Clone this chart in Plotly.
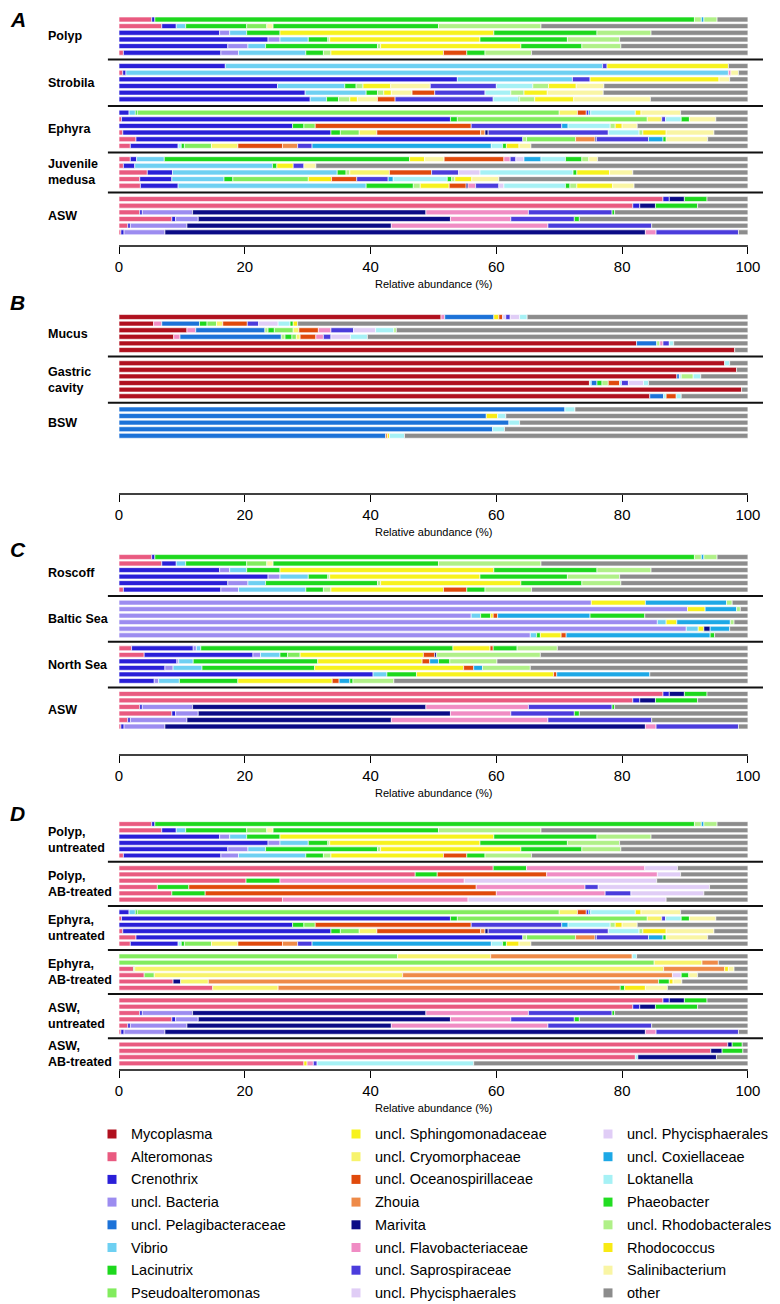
import plotly.graph_objects as go

W, H = 780, 1304
PAGE_MARGIN = 8  # the browser puts the plot 8px in from the page corner
FONT = "Liberation Sans, Arial, Helvetica, sans-serif"

# taxon code -> (legend label, colour)
TAXA = {
    "MYC": ("Mycoplasma", "#B0101E"),
    "ALT": ("Alteromonas", "#E95A80"),
    "CRE": ("Crenothrix", "#2A1FD8"),
    "BAC": ("uncl. Bacteria", "#9C8CF0"),
    "PEL": ("uncl. Pelagibacteraceae", "#1C72D8"),
    "VIB": ("Vibrio", "#6ED0F2"),
    "LAC": ("Lacinutrix", "#1DD81D"),
    "PSE": ("Pseudoalteromonas", "#82EC5E"),
    "SPH": ("uncl. Sphingomonadaceae", "#F7F21E"),
    "CRY": ("uncl. Cryomorphaceae", "#F7F36C"),
    "OCE": ("uncl. Oceanospirillaceae", "#E04A0C"),
    "ZHO": ("Zhouia", "#EE8A48"),
    "MAR": ("Marivita", "#0B0B86"),
    "FLA": ("uncl. Flavobacteriaceae", "#F08CC4"),
    "SAP": ("uncl. Saprospiraceae", "#4B3CDC"),
    "PHY": ("uncl. Phycisphaerales", "#E0CDF6"),
    "COX": ("uncl. Coxiellaceae", "#1DA8E6"),
    "LOK": ("Loktanella", "#A6F1F5"),
    "PHA": ("Phaeobacter", "#22DD22"),
    "RHB": ("uncl. Rhodobacterales", "#B0F088"),
    "RHO": ("Rhodococcus", "#F8EA14"),
    "SAL": ("Salinibacterium", "#F9F5A4"),
    "OTH": ("other", "#8C8C8C"),
}

LEGEND_COLUMNS = [
    ["MYC", "ALT", "CRE", "BAC", "PEL", "VIB", "LAC", "PSE"],
    ["SPH", "CRY", "OCE", "ZHO", "MAR", "FLA", "SAP", "PHY"],
    ["PHY", "COX", "LOK", "PHA", "RHB", "RHO", "SAL", "OTH"],
]

# relative abundance (%) per sample, segments in drawing order
POLYP = [
    [("ALT", 5.2), ("CRE", 0.5), ("LAC", 85.8), ("RHB", 1.1), ("COX", 0.4), ("RHB", 2.1), ("OTH", 4.9)],
    [("ALT", 6.8), ("CRE", 2.3), ("VIB", 1.5), ("LAC", 9.7), ("PSE", 3.2), ("SAL", 1.0), ("LAC", 26.3), ("RHB", 16.3), ("OTH", 32.9)],
    [("CRE", 16.0), ("BAC", 1.6), ("VIB", 2.7), ("LAC", 5.3), ("SPH", 34.0), ("LAC", 16.4), ("RHB", 8.6), ("OTH", 15.4)],
    [("CRE", 23.7), ("BAC", 1.9), ("VIB", 4.5), ("LAC", 3.1), ("RHB", 0.3), ("SPH", 23.9), ("LAC", 13.9), ("RHB", 8.3), ("OTH", 20.4)],
    [("CRE", 17.3), ("BAC", 3.2), ("VIB", 2.8), ("LAC", 17.8), ("RHB", 0.5), ("SPH", 22.3), ("LAC", 9.7), ("RHB", 6.2), ("OTH", 20.2)],
    [("ALT", 0.7), ("CRE", 15.5), ("BAC", 2.8), ("VIB", 10.7), ("LAC", 2.8), ("RHB", 1.2), ("SPH", 17.9), ("OCE", 3.7), ("LAC", 2.9), ("RHB", 7.4), ("OTH", 34.4)],
]
STROBILA = [
    [("CRE", 16.9), ("VIB", 60.0), ("SAP", 0.7), ("SPH", 19.3), ("OTH", 3.1)],
    [("ALT", 0.6), ("CRE", 0.5), ("VIB", 95.8), ("FLA", 0.4), ("SAL", 1.2), ("OTH", 1.5)],
    [("CRE", 53.8), ("VIB", 18.3), ("SAP", 2.8), ("SPH", 20.5), ("SAL", 1.7), ("OTH", 2.9)],
    [("CRE", 25.2), ("VIB", 10.7), ("LAC", 1.8), ("RHB", 1.1), ("SPH", 4.4), ("SAL", 6.3), ("SAP", 10.5), ("LOK", 5.8), ("RHB", 2.5), ("SPH", 4.4), ("SAL", 4.4), ("OTH", 22.9)],
    [("CRE", 29.6), ("VIB", 9.7), ("LAC", 1.8), ("RHB", 1.0), ("SPH", 1.2), ("SAL", 3.3), ("OCE", 3.6), ("SAP", 8.0), ("LOK", 4.1), ("RHB", 2.1), ("SPH", 3.7), ("SAL", 8.9), ("OTH", 23.0)],
    [("CRE", 30.4), ("VIB", 2.6), ("LAC", 1.9), ("RHB", 1.8), ("SPH", 1.2), ("SAL", 3.2), ("OCE", 2.8), ("SAP", 15.6), ("LOK", 4.0), ("LAC", 0.2), ("RHB", 2.4), ("SPH", 6.2), ("SAL", 12.2), ("OTH", 15.5)],
]
EPHYRA = [
    [("CRE", 1.6), ("VIB", 1.0), ("LAC", 0.3), ("PSE", 67.1), ("CRY", 2.9), ("OCE", 1.4), ("SAP", 0.4), ("COX", 0.3), ("LOK", 7.1), ("RHO", 0.9), ("SAL", 6.3), ("OTH", 10.7)],
    [("ALT", 0.4), ("CRE", 52.3), ("LAC", 1.1), ("PSE", 30.2), ("CRY", 2.3), ("SAP", 0.6), ("LOK", 2.5), ("LAC", 1.3), ("SAL", 4.2), ("OTH", 5.1)],
    [("CRE", 27.6), ("LAC", 1.8), ("PSE", 1.8), ("OCE", 24.8), ("SAP", 14.4), ("COX", 1.0), ("LOK", 6.7), ("RHB", 0.8), ("RHO", 1.1), ("SAL", 2.4), ("OTH", 17.6)],
    [("ALT", 0.6), ("CRE", 33.1), ("LAC", 1.5), ("PSE", 3.0), ("CRY", 2.8), ("OCE", 16.5), ("ZHO", 0.7), ("MAR", 0.5), ("SAP", 19.1), ("LOK", 4.9), ("RHB", 0.6), ("RHO", 3.7), ("SAL", 7.6), ("OTH", 5.4)],
    [("ALT", 2.7), ("CRE", 61.5), ("RHB", 0.6), ("PSE", 7.8), ("ZHO", 3.1), ("MAR", 0.2), ("SAP", 8.3), ("COX", 2.3), ("LAC", 0.5), ("SAL", 6.6), ("OTH", 6.4)],
    [("ALT", 1.8), ("CRE", 7.6), ("LOK", 0.5), ("LAC", 0.5), ("PSE", 4.3), ("CRY", 4.2), ("OCE", 7.1), ("ZHO", 2.4), ("SAP", 2.3), ("COX", 28.5), ("LOK", 1.8), ("LAC", 0.6), ("RHO", 2.0), ("SAL", 1.9), ("OTH", 34.5)],
]
JUVENILE = [
    [("ALT", 1.8), ("CRE", 1.0), ("VIB", 4.4), ("LAC", 39.0), ("SPH", 2.4), ("SAL", 3.1), ("OCE", 9.5), ("FLA", 1.0), ("SAP", 0.9), ("PHY", 1.3), ("COX", 2.7), ("LOK", 3.9), ("LAC", 2.6), ("RHB", 1.1), ("SAL", 1.4), ("OTH", 23.9)],
    [("ALT", 0.7), ("CRE", 1.8), ("VIB", 21.9), ("LAC", 0.7), ("SPH", 2.6), ("SAP", 1.7), ("SAL", 1.9), ("OTH", 68.7)],
    [("ALT", 4.5), ("CRE", 4.0), ("VIB", 26.2), ("LAC", 1.4), ("RHB", 0.6), ("CRY", 6.3), ("OCE", 6.7), ("SAP", 4.3), ("PHY", 3.4), ("LOK", 14.8), ("LAC", 0.6), ("SPH", 5.2), ("SAL", 3.7), ("OTH", 18.3)],
    [("ALT", 3.3), ("CRE", 5.1), ("VIB", 8.3), ("LAC", 1.4), ("PSE", 12.0), ("RHO", 3.7), ("OCE", 4.0), ("SAP", 5.0), ("COX", 0.8), ("LOK", 8.6), ("LAC", 0.7), ("RHB", 0.5), ("SPH", 2.7), ("SAL", 4.3), ("OTH", 39.6)],
    [("ALT", 3.4), ("CRE", 6.0), ("VIB", 29.9), ("LAC", 7.5), ("RHB", 1.1), ("SPH", 4.6), ("OCE", 2.7), ("MAR", 0.3), ("FLA", 1.2), ("SAP", 3.7), ("PHY", 0.8), ("LOK", 9.8), ("LAC", 0.7), ("RHB", 1.1), ("SPH", 5.7), ("SAL", 3.4), ("OTH", 18.1)],
]
ASW = [
    [("ALT", 86.5), ("CRE", 1.0), ("MAR", 2.4), ("LAC", 3.6), ("OTH", 6.5)],
    [("ALT", 81.7), ("CRE", 1.1), ("MAR", 2.5), ("LAC", 6.7), ("OTH", 8.0)],
    [("ALT", 3.3), ("CRE", 0.4), ("BAC", 8.0), ("MAR", 37.1), ("FLA", 16.3), ("SAP", 13.3), ("LAC", 0.4), ("OTH", 21.2)],
    [("ALT", 8.4), ("CRE", 0.6), ("BAC", 3.6), ("MAR", 40.1), ("FLA", 9.6), ("SAP", 10.1), ("LAC", 0.8), ("OTH", 26.8)],
    [("ALT", 1.4), ("CRE", 0.4), ("BAC", 9.0), ("MAR", 32.5), ("FLA", 24.9), ("SAP", 16.5), ("OTH", 15.3)],
    [("ALT", 0.3), ("CRE", 0.5), ("BAC", 6.5), ("MAR", 76.4), ("FLA", 1.7), ("SAP", 13.1), ("OTH", 1.5)],
]
MUCUS = [
    [("MYC", 51.2), ("FLA", 0.6), ("PEL", 7.8), ("RHO", 0.8), ("OCE", 0.6), ("PHY", 0.5), ("SAP", 0.7), ("PHY", 1.5), ("LOK", 1.2), ("OTH", 35.1)],
    [("MYC", 5.5), ("FLA", 1.3), ("PEL", 6.0), ("LAC", 1.2), ("PSE", 1.5), ("CRY", 1.0), ("OCE", 3.9), ("SAP", 1.8), ("PHY", 3.1), ("LOK", 1.9), ("LAC", 0.5), ("RHO", 0.7), ("OTH", 71.6)],
    [("MYC", 10.8), ("FLA", 1.4), ("PEL", 11.0), ("RHB", 0.5), ("LAC", 1.0), ("PSE", 3.0), ("CRY", 0.9), ("OCE", 3.1), ("FLA", 2.0), ("SAP", 3.6), ("PHY", 3.5), ("LOK", 2.9), ("RHB", 0.4), ("OTH", 55.9)],
    [("MYC", 8.7), ("FLA", 1.0), ("PEL", 16.1), ("RHB", 0.6), ("LAC", 1.1), ("PSE", 0.7), ("CRY", 0.6), ("OCE", 2.5), ("FLA", 1.2), ("SAP", 1.2), ("PHY", 3.1), ("LOK", 2.7), ("OTH", 60.5)],
    [("MYC", 82.3), ("PEL", 3.2), ("RHB", 0.5), ("FLA", 0.5), ("SAP", 1.0), ("LOK", 0.7), ("OTH", 11.8)],
    [("MYC", 97.9), ("OTH", 2.1)],
]
GASTRIC = [
    [("MYC", 96.3), ("LOK", 0.8), ("OTH", 2.9)],
    [("MYC", 98.2), ("OTH", 1.8)],
    [("MYC", 88.7), ("PEL", 0.4), ("LOK", 0.3), ("RHB", 1.9), ("LOK", 1.2), ("OTH", 7.5)],
    [("MYC", 74.8), ("LOK", 0.3), ("PEL", 0.9), ("LAC", 0.8), ("RHB", 1.0), ("OCE", 1.8), ("LOK", 0.3), ("SAP", 1.1), ("PHY", 2.4), ("LOK", 0.8), ("OTH", 15.8)],
    [("MYC", 99.0), ("OTH", 1.0)],
    [("MYC", 84.4), ("PEL", 2.2), ("LOK", 0.4), ("OCE", 1.6), ("LOK", 0.8), ("OTH", 10.6)],
]
BSW = [
    [("PEL", 70.9), ("LOK", 1.6), ("OTH", 27.5)],
    [("PEL", 58.4), ("RHO", 1.8), ("LOK", 1.3), ("OTH", 38.5)],
    [("PEL", 62.0), ("LOK", 1.7), ("OTH", 36.3)],
    [("PEL", 59.4), ("LOK", 1.9), ("OTH", 38.7)],
    [("PEL", 42.4), ("ZHO", 0.3), ("RHO", 0.3), ("LOK", 2.4), ("OTH", 54.6)],
]
BALTIC = [
    [("BAC", 75.1), ("SPH", 8.6), ("COX", 12.9), ("RHB", 0.9), ("OTH", 2.5)],
    [("BAC", 90.4), ("SPH", 2.8), ("COX", 5.0), ("RHB", 0.6), ("OTH", 1.2)],
    [("BAC", 56.0), ("VIB", 1.5), ("LAC", 1.6), ("RHO", 0.4), ("OCE", 0.7), ("COX", 14.7), ("LAC", 8.7), ("OTH", 16.4)],
    [("BAC", 85.6), ("VIB", 1.4), ("SPH", 1.7), ("COX", 8.5), ("RHB", 0.6), ("OTH", 2.2)],
    [("BAC", 90.2), ("VIB", 1.9), ("SPH", 0.9), ("MAR", 1.0), ("COX", 3.1), ("OTH", 2.9)],
    [("BAC", 65.4), ("VIB", 1.0), ("LAC", 0.6), ("SPH", 3.3), ("OCE", 0.8), ("COX", 22.9), ("LAC", 0.7), ("OTH", 5.3)],
]
NORTH_SEA = [
    [("ALT", 2.0), ("CRE", 9.8), ("BAC", 0.5), ("VIB", 0.7), ("LAC", 40.1), ("SPH", 5.9), ("OCE", 0.5), ("LAC", 3.8), ("RHB", 6.4), ("OTH", 30.3)],
    [("ALT", 4.0), ("CRE", 17.3), ("BAC", 1.2), ("VIB", 3.1), ("LAC", 1.2), ("PSE", 2.0), ("SPH", 19.6), ("OCE", 1.8), ("MAR", 0.3), ("RHB", 16.5), ("OTH", 33.0)],
    [("CRE", 9.2), ("BAC", 0.3), ("VIB", 2.3), ("LAC", 19.8), ("SPH", 16.6), ("OCE", 1.2), ("COX", 1.4), ("LAC", 1.8), ("RHB", 7.5), ("OTH", 39.9)],
    [("CRE", 7.3), ("BAC", 1.3), ("VIB", 4.6), ("LAC", 17.9), ("SPH", 23.7), ("OCE", 1.6), ("COX", 1.4), ("RHB", 7.6), ("OTH", 34.6)],
    [("CRE", 40.4), ("VIB", 2.2), ("LAC", 4.7), ("SPH", 21.8), ("OCE", 0.5), ("COX", 14.8), ("OTH", 15.6)],
    [("CRE", 5.6), ("BAC", 0.7), ("VIB", 3.3), ("LAC", 9.3), ("SPH", 15.0), ("OCE", 1.1), ("COX", 1.7), ("LAC", 0.5), ("RHB", 6.5), ("OTH", 56.3)],
]
POLYP_AB = [
    [("ALT", 59.5), ("LAC", 5.3), ("FLA", 18.8), ("PHY", 5.2), ("OTH", 11.2)],
    [("ALT", 47.1), ("LAC", 3.5), ("OCE", 17.4), ("FLA", 17.6), ("PHY", 3.7), ("OTH", 10.7)],
    [("ALT", 20.2), ("LAC", 5.4), ("FLA", 29.3), ("PHY", 30.6), ("OTH", 14.5)],
    [("ALT", 6.1), ("LAC", 5.0), ("OCE", 45.7), ("FLA", 17.3), ("SAP", 2.1), ("PHY", 17.7), ("OTH", 6.1)],
    [("ALT", 8.4), ("LAC", 5.3), ("OCE", 46.3), ("FLA", 17.3), ("SAP", 4.1), ("PHY", 11.6), ("OTH", 7.0)],
    [("ALT", 26.0), ("FLA", 29.5), ("PHY", 31.5), ("OTH", 13.0)],
]
EPHYRA_AB = [
    [("PSE", 44.3), ("CRY", 14.8), ("ZHO", 22.5), ("LOK", 0.7), ("OTH", 17.7)],
    [("PSE", 85.1), ("CRY", 7.6), ("ZHO", 2.6), ("OTH", 4.7)],
    [("ALT", 2.3), ("PSE", 0.2), ("CRY", 84.1), ("ZHO", 9.7), ("RHO", 0.6), ("SAL", 0.9), ("OTH", 2.2)],
    [("ALT", 4.0), ("PSE", 1.6), ("CRY", 39.5), ("ZHO", 42.9), ("PHY", 1.4), ("LAC", 1.2), ("SAL", 1.4), ("OTH", 8.0)],
    [("ALT", 8.6), ("MAR", 1.2), ("CRY", 4.4), ("ZHO", 71.6), ("LAC", 1.7), ("RHO", 0.6), ("SAL", 1.4), ("OTH", 10.5)],
    [("ALT", 14.9), ("CRY", 10.4), ("ZHO", 54.4), ("LAC", 0.7), ("RHO", 3.3), ("SAL", 3.5), ("OTH", 12.8)],
]
ASW_AB = [
    [("ALT", 96.8), ("MAR", 0.7), ("LAC", 1.6), ("OTH", 0.9)],
    [("ALT", 94.1), ("MAR", 1.8), ("LAC", 3.3), ("OTH", 0.8)],
    [("ALT", 82.1), ("LOK", 0.4), ("MAR", 12.5), ("OTH", 5.0)],
    [("ALT", 29.4), ("RHO", 0.5), ("FLA", 1.0), ("SAP", 0.6), ("LOK", 24.9), ("OTH", 43.6)],
]

TICKS = [0, 20, 40, 60, 80, 100]

# panel layout in screen pixels: first bar centre, row pitch, axis line
PANELS = [
    dict(letter="A", letter_y=19, first=19.5, step=6.65, axis=246,
         groups=[("Polyp", POLYP), ("Strobila", STROBILA), ("Ephyra", EPHYRA),
                 ("Juvenile<br>medusa", JUVENILE), ("ASW", ASW)]),
    dict(letter="B", letter_y=302, first=317, step=6.6, axis=494,
         groups=[("Mucus", MUCUS), ("Gastric<br>cavity", GASTRIC), ("BSW", BSW)]),
    dict(letter="C", letter_y=549, first=557, step=6.52, axis=755,
         groups=[("Roscoff", POLYP), ("Baltic Sea", BALTIC), ("North Sea", NORTH_SEA), ("ASW", ASW)]),
    dict(letter="D", letter_y=813, first=824, step=6.3, axis=1070,
         groups=[("Polyp,<br>untreated", POLYP), ("Polyp,<br>AB-treated", POLYP_AB),
                 ("Ephyra,<br>untreated", EPHYRA), ("Ephyra,<br>AB-treated", EPHYRA_AB),
                 ("ASW,<br>untreated", ASW), ("ASW,<br>AB-treated", ASW_AB)]),
]

X_RANGE = [-1.8, 102.4]


def fx(px):
    return (px - PAGE_MARGIN) / W


def fy(px):
    return 1 - (px - PAGE_MARGIN) / H


X_DOMAIN = [fx(107.7), fx(763.0)]

fig = go.Figure()
shapes, annotations = [], []
layout_axes = {}

for n, panel in enumerate(PANELS, start=1):
    sfx = "" if n == 1 else str(n)
    xa, ya = "x" + sfx, "y" + sfx

    rows, widths, bases, colors = [], [], [], []
    row = 0
    for gi, (name, samples) in enumerate(panel["groups"]):
        if gi:
            # black separator line between groups
            shapes.append(dict(type="line", xref=xa, yref=ya, x0=X_RANGE[0], x1=X_RANGE[1],
                               y0=row, y1=row, line=dict(color="#111111", width=2)))
            row += 1
        first_row = row
        for sample in samples:
            left = 0.0
            for code, value in sample:
                rows.append(row)
                widths.append(value)
                bases.append(left)
                colors.append(TAXA[code][1])
                left += value
            row += 1
        annotations.append(dict(text="<b>%s</b>" % name, xref="paper", yref=ya, x=fx(46),
                                y=(first_row + row - 1) / 2, xanchor="left", yanchor="middle",
                                align="left", showarrow=False,
                                font=dict(size=12.5, color="black", family=FONT)))

    fig.add_trace(go.Bar(
        x=widths, base=bases, y=rows, orientation="h", width=0.74,
        marker=dict(color=colors, line=dict(color="white", width=0.6)),
        xaxis=xa, yaxis=ya, hoverinfo="skip", showlegend=False,
    ))

    bottom = (panel["axis"] - panel["first"]) / panel["step"]
    layout_axes["xaxis" + sfx] = dict(
        domain=X_DOMAIN, range=X_RANGE, anchor=ya, tickvals=TICKS, ticks="outside",
        ticklen=7, tickwidth=1.3, tickcolor="black", showline=False, showgrid=False,
        zeroline=False, tickfont=dict(size=15, color="black", family=FONT),
        fixedrange=True,
    )
    layout_axes["yaxis" + sfx] = dict(
        domain=[fy(panel["axis"]), fy(panel["first"] - panel["step"])],
        range=[bottom, -1], anchor=xa, visible=False, fixedrange=True,
    )

    # axis line only over 0-100, like the base-R axis
    shapes.append(dict(type="line", xref=xa, yref="paper", x0=0, x1=100,
                       y0=fy(panel["axis"]), y1=fy(panel["axis"]),
                       line=dict(color="black", width=1.3)))
    annotations.append(dict(text="Relative abundance (%)", xref=xa, yref="paper", x=50,
                            y=fy(panel["axis"] + 38), xanchor="center", yanchor="middle",
                            showarrow=False, font=dict(size=11, color="black", family=FONT)))
    annotations.append(dict(text="<b><i>%s</i></b>" % panel["letter"], xref="paper", yref="paper",
                            x=0, y=fy(panel["letter_y"]), xanchor="left", yanchor="middle",
                            showarrow=False, font=dict(size=21, color="black", family=FONT)))

# legend, three columns below the last panel
LEGEND_X = [112, 356, 608]
for ci, column in enumerate(LEGEND_COLUMNS):
    for ri, code in enumerate(column):
        label, color = TAXA[code]
        cy = 1134 + ri * 22.7
        cx = LEGEND_X[ci]
        shapes.append(dict(type="rect", xref="paper", yref="paper",
                           x0=fx(cx - 4.5), x1=fx(cx + 4.5), y0=fy(cy + 4.5), y1=fy(cy - 4.5),
                           fillcolor=color, line=dict(width=0)))
        annotations.append(dict(text=label, xref="paper", yref="paper", x=fx(cx + 17), y=fy(cy),
                                xanchor="left", yanchor="middle", showarrow=False,
                                font=dict(size=14.5, color="black", family=FONT)))

fig.update_layout(
    width=W, height=H,
    margin=dict(l=0, r=0, t=0, b=0),
    paper_bgcolor="white", plot_bgcolor="white",
    barmode="overlay", showlegend=False,
    font=dict(family=FONT, color="black"),
    shapes=shapes, annotations=annotations,
    **layout_axes,
)

fig.write_html("out.html")
